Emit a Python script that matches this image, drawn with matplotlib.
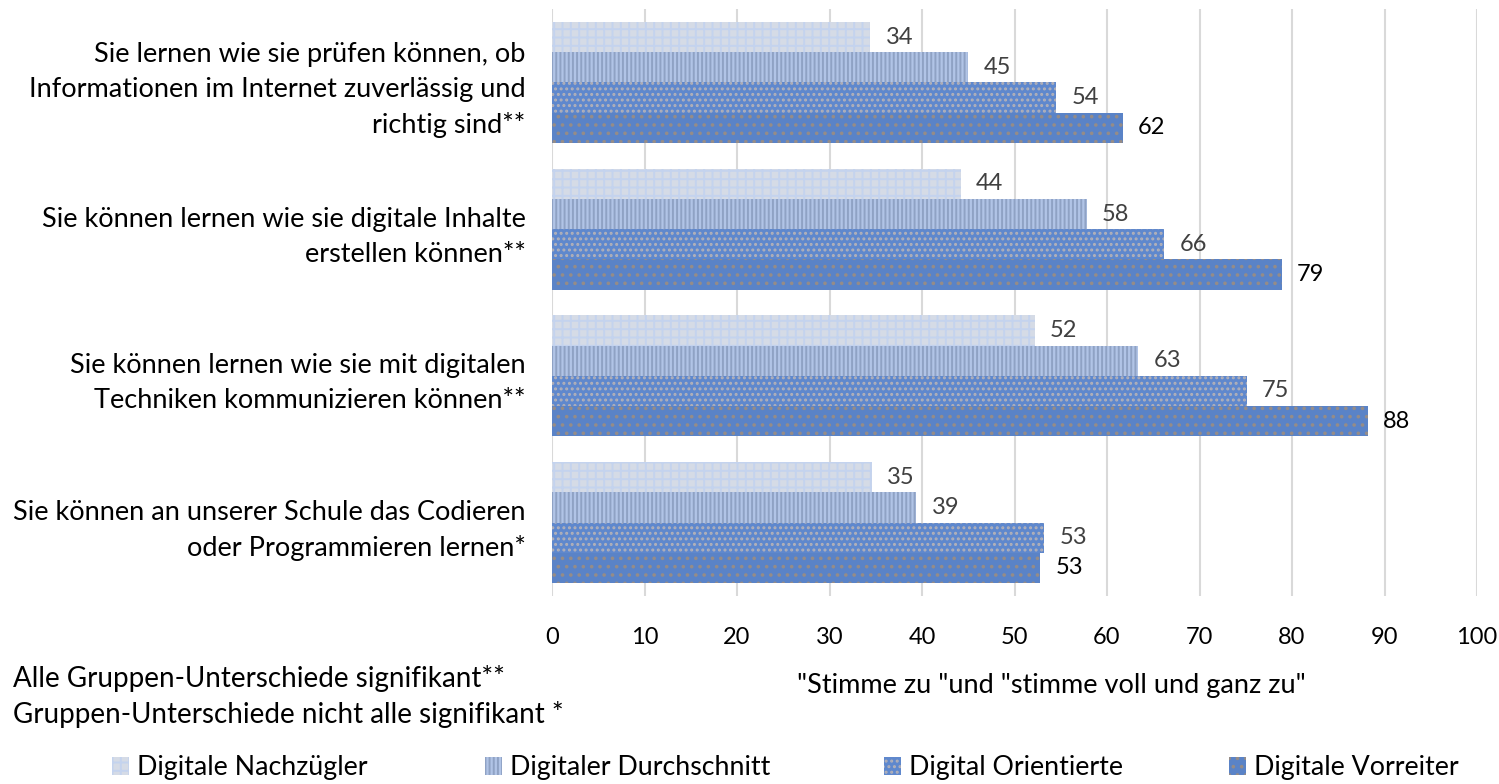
import numpy as np
import matplotlib
matplotlib.use("Agg")
import matplotlib.pyplot as plt

plt.rcParams['font.family'] = ['Lato', 'DejaVu Sans']
plt.rcParams['hatch.linewidth'] = 1.4

# Daten
kategorien = [
    "Sie lernen wie sie prüfen können, ob\nInformationen im Internet zuverlässig und\nrichtig sind**",
    "Sie können lernen wie sie digitale Inhalte\nerstellen können**",
    "Sie können lernen wie sie mit digitalen\nTechniken kommunizieren können**",
    "Sie können an unserer Schule das Codieren\noder Programmieren lernen*",
]
gruppen = ["Digitale Nachzügler", "Digitaler Durchschnitt", "Digital Orientierte", "Digitale Vorreiter"]
nachzuegler = [34.4, 44.2, 52.2, 34.6]
durchschnitt = [45.0, 57.8, 63.4, 39.4]
orientierte = [54.5, 66.2, 75.1, 53.2]
vorreiter = [61.7, 78.9, 88.2, 52.8]
x_ticks = [0, 10, 20, 30, 40, 50, 60, 70, 80, 90, 100]

werte = [nachzuegler, durchschnitt, orientierte, vorreiter]

# Stil je Gruppe
farben = ['#d5dbe6', '#b1c4e6', '#5f88cd', '#5a83c7']
hatch_farben = ['#c4d3ee', '#8fa2c4', '#b3b1b8', '#958c88']
hatches = ['++', '||||', '...', '..']
label_farben = ['#404040', '#404040', '#404040', '#000000']

fig = plt.figure(figsize=(14.99, 7.84), dpi=100)
ax = fig.add_axes([552 / 1499, 1 - 596 / 784, 925 / 1499, 587 / 784])

n = len(kategorien)
y = np.arange(n)
h = 0.206
handles = []
for i, (vals, farbe) in enumerate(zip(werte, farben)):
    pos = y - 1.5 * h + i * h
    bars = ax.barh(pos, vals, height=h, color=farbe, edgecolor=hatch_farben[i],
                   hatch=hatches[i], linewidth=0, zorder=2)
    handles.append(bars)
    for p, v in zip(pos, vals):
        ax.annotate(f"{v:.0f}", (v, p), xytext=(11, 0), textcoords='offset points',
                    va='center', ha='left', fontsize=17, color=label_farben[i])

ax.set_xlim(0, 100)
ax.set_ylim(n - 0.5, -0.5)
ax.set_xticks(x_ticks)
ax.set_yticks(y)
ax.set_yticklabels(kategorien, fontsize=19.5, linespacing=1.5)
ax.tick_params(axis='x', length=0, labelsize=17, pad=22)
ax.tick_params(axis='y', length=0, pad=19)
for lbl in ax.get_yticklabels():
    lbl.set_horizontalalignment('right')
ax.grid(axis='x', color='#d9d9d9', linewidth=1.5, zorder=0)
for s in ax.spines.values():
    s.set_visible(False)

# Texte unten
fig.text(13 / 1499, 1 - 678 / 784, "Alle Gruppen-Unterschiede signifikant**", fontsize=20, va='center')
fig.text(13 / 1499, 1 - 715 / 784, "Gruppen-Unterschiede nicht alle signifikant *", fontsize=20, va='center')
fig.text(1051 / 1499, 1 - 685 / 784, "\"Stimme zu \"und \"stimme voll und ganz zu\"", fontsize=19.5,
         va='center', ha='center')

# Legende
legend_x = [112, 485, 884, 1229]
for hd, name, lx in zip(handles, gruppen, legend_x):
    fig.legend([hd], [name], loc='center left', bbox_to_anchor=(lx / 1499, 1 - 768 / 784),
               frameon=False, fontsize=19.3, handlelength=0.65, handleheight=0.65,
               handletextpad=0.3, borderpad=0, borderaxespad=0)

fig.savefig("out.png", dpi=100)
